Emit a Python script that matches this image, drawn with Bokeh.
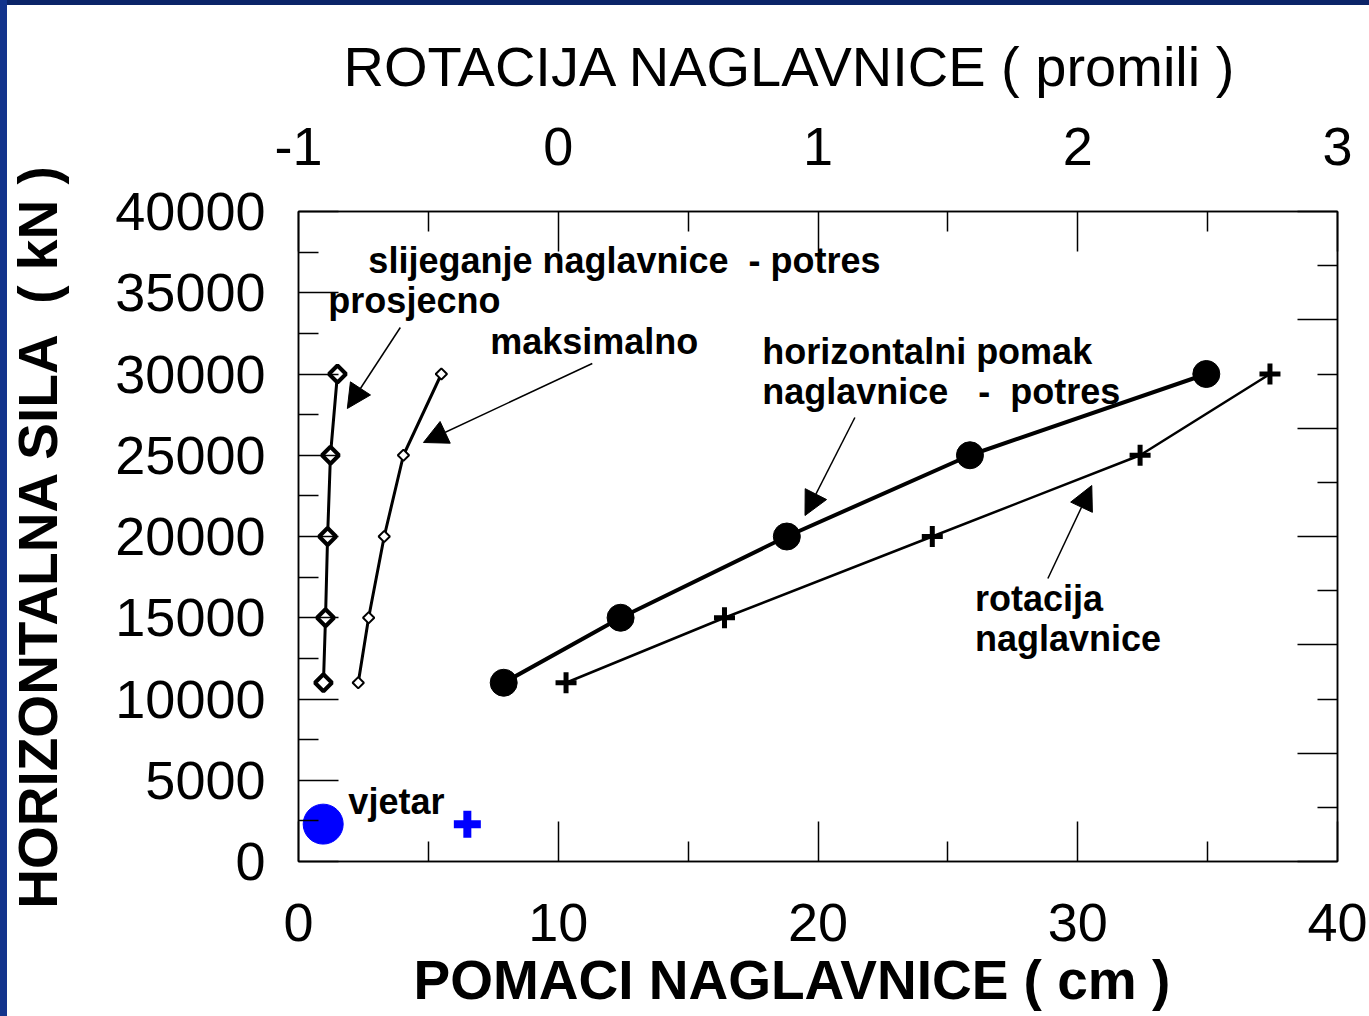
import math
from bokeh.plotting import figure
from bokeh.models import Range1d, LinearAxis, FixedTicker, Label, Arrow, NormalHead, Title
from bokeh.embed import file_html
from bokeh.resources import INLINE

# ---- data ----
force_levels = [11000, 15000, 20000, 25000, 30000]          # kN
settle_avg = [0.96, 1.04, 1.12, 1.23, 1.50]                 # cm  (slijeganje - prosjecno)
settle_max = [2.30, 2.70, 3.30, 4.04, 5.50]                 # cm  (slijeganje - maksimalno)
horiz_disp = [7.9, 12.4, 18.8, 25.85, 34.95]                # cm  (horizontalni pomak)
rotation = [0.03, 0.64, 1.44, 2.24, 2.74]                   # promili (rotacija)
wind_force = [2300]
wind_disp = [0.95]
wind_rot = [-0.35]

x_ticks = [0, 10, 20, 30, 40]
x_minor = [5, 15, 25, 35]
y_ticks = [0, 5000, 10000, 15000, 20000, 25000, 30000, 35000, 40000]
y_minor = [2500, 7500, 12500, 17500, 22500, 27500, 32500, 37500]
rot_ticks = [-1, 0, 1, 2, 3]
rot_minor = [-0.5, 0.5, 1.5, 2.5]
r_ticks = [0, 2, 4, 6, 8, 10, 12]
r_minor = [1, 3, 5, 7, 9, 11]

FONT = "Liberation Sans"
NB = "\u00a0"

p = figure(width=1369, height=1016, x_range=Range1d(0, 40), y_range=Range1d(0, 40000),
           output_backend="svg", toolbar_location=None,
           min_border_left=298, min_border_right=32, min_border_top=211, min_border_bottom=155,
           background_fill_color="white", border_fill_color=None)
p.styles = {
    "background": "linear-gradient(to right, #13348c 0px, #13348c 7px, rgba(0,0,0,0) 7px), "
                  "linear-gradient(to bottom, #0b2468 0px, #0b2468 5px, #ffffff 5px)"
}
p.extra_x_ranges = {"rot": Range1d(-1, 3)}
p.extra_y_ranges = {"r12": Range1d(0, 12)}
p.xgrid.visible = False
p.ygrid.visible = False
p.outline_line_color = "black"
p.outline_line_width = 1.5

xb = p.below[0]
yl = p.left[0]
top = LinearAxis(x_range_name="rot")
right = LinearAxis(y_range_name="r12")
p.add_layout(top, "above")
p.add_layout(right, "right")

def style(ax):
    ax.axis_line_color = "black"
    ax.axis_line_width = 1.5
    ax.major_tick_line_color = "black"
    ax.major_tick_line_width = 1.5
    ax.minor_tick_line_color = "black"
    ax.minor_tick_line_width = 1.5
    ax.major_tick_in = 40
    ax.major_tick_out = 0
    ax.minor_tick_in = 20
    ax.minor_tick_out = 0
    ax.major_label_text_font = FONT
    ax.major_label_text_font_size = "54px"
    ax.major_label_text_color = "black"
    ax.axis_label_text_font = FONT
    ax.axis_label_text_color = "black"

for ax in (xb, yl, top, right):
    style(ax)

xb.ticker = FixedTicker(ticks=x_ticks, minor_ticks=x_minor)
xb.major_label_standoff = 42

yl.ticker = FixedTicker(ticks=y_ticks, minor_ticks=y_minor)
yl.major_label_standoff = 33
yl.axis_label = "HORIZONTALNA SILA" + NB * 2 + "( kN )"
yl.axis_label_text_font_style = "bold"
yl.axis_label_text_font_size = "55px"
yl.axis_label_standoff = 43

top.ticker = FixedTicker(ticks=rot_ticks, minor_ticks=rot_minor)
top.major_label_overrides = {-1: "-1", 0: "0", 1: "1", 2: "2", 3: "3"}
top.major_label_standoff = 47

right.ticker = FixedTicker(ticks=r_ticks, minor_ticks=r_minor)
right.major_label_overrides = {t: "" for t in r_ticks}
right.major_label_text_font_size = "0px"

# axis titles (placed as titles so they can sit left of centre, as in the source)
p.add_layout(Title(text="ROTACIJA NAGLAVNICE ( promili )", text_font=FONT,
                   text_font_size="56px", text_font_style="normal", text_color="black",
                   align="left", offset=45, standoff=50, vertical_align="top"), "above")
p.add_layout(Title(text="POMACI NAGLAVNICE ( cm )", text_font=FONT,
                   text_font_size="55px", text_font_style="bold", text_color="black",
                   align="left", offset=115, standoff=7), "below")

# ---- series ----
p.line(settle_avg, force_levels, line_color="black", line_width=3)
p.scatter(settle_avg, force_levels, marker="square", angle=math.pi / 4, size=12,
          fill_color="white", line_color="black", line_width=4)

p.line(settle_max, force_levels, line_color="black", line_width=3)
p.scatter(settle_max, force_levels, marker="square", angle=math.pi / 4, size=8,
          fill_color="white", line_color="black", line_width=2)

p.line(horiz_disp, force_levels, line_color="black", line_width=4)
p.scatter(horiz_disp, force_levels, marker="circle", size=27,
          fill_color="black", line_color="black")

p.line(rotation, force_levels, x_range_name="rot", line_color="black", line_width=2.5)
p.scatter(rotation, force_levels, x_range_name="rot", marker="cross", size=21,
          line_color="black", line_width=5)

p.scatter(wind_disp, wind_force, marker="circle", size=40, fill_color="#0000FF", line_color="#0000FF")
p.scatter(wind_rot, wind_force, x_range_name="rot", marker="cross", size=27,
          line_color="#0000FF", line_width=8)

# ---- annotations ----
labels = [
    (2.69, 36980, "slijeganje naglavnice" + NB * 2 + "- potres"),
    (1.15, 34520, "prosjecno"),
    (7.38, 32000, "maksimalno"),
    (17.85, 31380, "horizontalni pomak"),
    (17.85, 28920, "naglavnice" + NB * 3 + "-" + NB * 2 + "potres"),
    (26.04, 16180, "rotacija"),
    (26.04, 13720, "naglavnice"),
    (1.92, 3690, "vjetar"),
]
for lx, ly, txt in labels:
    p.add_layout(Label(x=lx, y=ly, text=txt, text_font=FONT, text_font_style="bold",
                       text_font_size="36px", text_color="black",
                       text_align="left", text_baseline="alphabetic"))

arrows = [
    (3.92, 32862, 1.88, 27877),
    (11.31, 30646, 4.81, 25785),
    (21.42, 27323, 19.5, 21292),
    (28.85, 17415, 30.54, 23138),
]
for xs, ys, xe, ye in arrows:
    p.add_layout(Arrow(end=NormalHead(size=24, fill_color="black", line_color="black"),
                       x_start=xs, y_start=ys, x_end=xe, y_end=ye,
                       line_color="black", line_width=1.5))

open("out.html", "w").write(file_html(p, INLINE))
